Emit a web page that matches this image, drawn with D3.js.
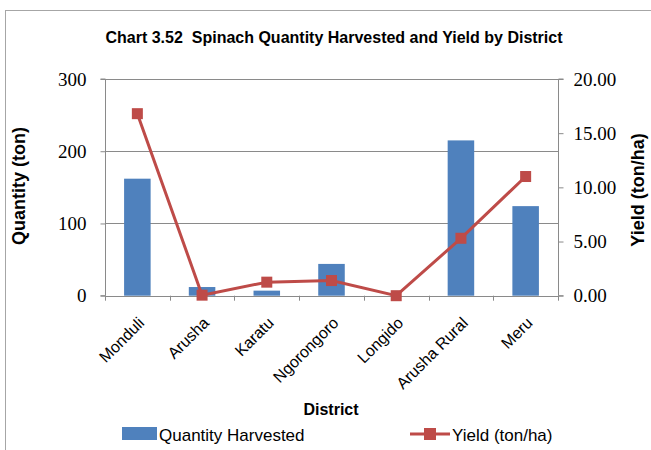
<!DOCTYPE html>
<html>
<head>
<meta charset="utf-8">
<script src="https://cdn.jsdelivr.net/npm/d3@7"></script>
<style>
  html, body { margin: 0; padding: 0; background: #fff; }
  svg { display: block; }
</style>
</head>
<body>
<svg id="chart" width="651" height="450"></svg>
<script>
const districts = ["Monduli", "Arusha", "Karatu", "Ngorongoro", "Longido", "Arusha Rural", "Meru"];
const quantityHarvested = [162, 12, 7, 44, 0, 215, 124];
const yieldTonHa = [16.8, 0.05, 1.25, 1.4, 0.0, 5.3, 11.0];
const leftTicks = [0, 100, 200, 300];
const rightTicks = [0, 5, 10, 15, 20];

const svg = d3.select("#chart");
const sansFont = "'Liberation Sans', Arial, sans-serif";
const serifFont = "'Liberation Serif', 'Times New Roman', serif";
const barColor = "#4F81BD";
const lineColor = "#BE4B48";
const gridColor = "#8a8a8a";

const plotLeft = 105, plotRight = 558, plotTop = 79, plotBottom = 295.7;

svg.append("rect").attr("width", 651).attr("height", 450).attr("fill", "#fff");
svg.append("rect").attr("x", 5.5).attr("y", 10.5).attr("width", 700).attr("height", 500)
  .attr("fill", "none").attr("stroke", "#a6a6a6").attr("stroke-width", 1);

svg.append("text").attr("x", 334).attr("y", 43).attr("text-anchor", "middle")
  .style("white-space", "pre")
  .attr("font-family", sansFont).attr("font-weight", "bold").attr("font-size", 16)
  .attr("fill", "#000").text("Chart 3.52  Spinach Quantity Harvested and Yield by District");

const x = d3.scaleBand().domain(districts).range([plotLeft, plotRight]);
const yL = d3.scaleLinear().domain([0, 300]).range([plotBottom, plotTop]);
const yR = d3.scaleLinear().domain([0, 20]).range([plotBottom, plotTop]);

// gridlines
svg.append("g").selectAll("line").data(leftTicks.filter(d => d > 0)).join("line")
  .attr("x1", plotLeft).attr("x2", plotRight)
  .attr("y1", d => Math.round(yL(d)) + 0.5).attr("y2", d => Math.round(yL(d)) + 0.5)
  .attr("stroke", gridColor).attr("stroke-width", 1);

// bars
const barW = x.bandwidth() * 0.41;
svg.append("g").selectAll("rect").data(districts).join("rect")
  .attr("x", (d) => x(d) + x.bandwidth() / 2 - barW / 2)
  .attr("width", barW)
  .attr("y", (d, i) => yL(quantityHarvested[i]))
  .attr("height", (d, i) => plotBottom - yL(quantityHarvested[i]))
  .attr("fill", barColor);

// left axis
const leftAxis = d3.axisLeft(yL).tickValues(leftTicks).tickSize(5).tickPadding(14).tickFormat(d3.format("d"));
const gL = svg.append("g").attr("transform", `translate(${plotLeft + 0.5},0)`).call(leftAxis);
gL.select(".domain").attr("stroke", gridColor).attr("d", `M-5,${plotTop}H0V${plotBottom}H-5`);
gL.selectAll(".tick line").attr("stroke", gridColor);
gL.selectAll(".tick text").attr("font-family", serifFont).attr("font-size", 19).attr("fill", "#000");

// right axis
const rightAxis = d3.axisRight(yR).tickValues(rightTicks).tickSize(5).tickPadding(10).tickFormat(d3.format(".2f"));
const gR = svg.append("g").attr("transform", `translate(${plotRight + 0.5},0)`).call(rightAxis);
gR.select(".domain").attr("stroke", gridColor).attr("d", `M5,${plotTop}H0V${plotBottom}H5`);
gR.selectAll(".tick line").attr("stroke", gridColor);
gR.selectAll(".tick text").attr("font-family", serifFont).attr("font-size", 19).attr("fill", "#000");

// bottom axis
const gB = svg.append("g");
gB.append("line").attr("x1", plotLeft).attr("x2", plotRight)
  .attr("y1", Math.round(plotBottom) + 0.5).attr("y2", Math.round(plotBottom) + 0.5)
  .attr("stroke", gridColor);
const boundaries = districts.map(d => x(d)).concat([plotRight]);
gB.selectAll("line.tk").data(boundaries).join("line").attr("class", "tk")
  .attr("x1", d => Math.round(d) + 0.5).attr("x2", d => Math.round(d) + 0.5)
  .attr("y1", plotBottom).attr("y2", plotBottom + 5).attr("stroke", gridColor);
gB.selectAll("text").data(districts).join("text")
  .attr("transform", d => `translate(${x(d) + x.bandwidth() / 2 + 8},324) rotate(-45)`)
  .attr("text-anchor", "end")
  .attr("font-family", sansFont).attr("font-size", 16).attr("fill", "#000")
  .text(d => d);

// yield line
const pts = districts.map((d, i) => [x(d) + x.bandwidth() / 2, yR(yieldTonHa[i])]);
svg.append("path").datum(pts).attr("d", d3.line())
  .attr("fill", "none").attr("stroke", lineColor).attr("stroke-width", 3);
const ms = 11;
svg.append("g").selectAll("rect").data(pts).join("rect")
  .attr("x", d => d[0] - ms / 2).attr("y", d => d[1] - ms / 2)
  .attr("width", ms).attr("height", ms).attr("fill", lineColor);

// axis titles
svg.append("text").attr("transform", "translate(25,186) rotate(-90)").attr("text-anchor", "middle")
  .attr("font-family", sansFont).attr("font-weight", "bold").attr("font-size", 18).attr("fill", "#000")
  .text("Quantity (ton)");
svg.append("text").attr("transform", "translate(644,190) rotate(-90)").attr("text-anchor", "middle")
  .attr("font-family", sansFont).attr("font-weight", "bold").attr("font-size", 18).attr("fill", "#000")
  .text("Yield (ton/ha)");
svg.append("text").attr("x", 331).attr("y", 415).attr("text-anchor", "middle")
  .attr("font-family", sansFont).attr("font-weight", "bold").attr("font-size", 16).attr("fill", "#000")
  .text("District");

// legend
const leg = svg.append("g");
leg.append("rect").attr("x", 122).attr("y", 427).attr("width", 35).attr("height", 13).attr("fill", barColor);
leg.append("text").attr("x", 159).attr("y", 441).attr("font-family", sansFont).attr("font-size", 17)
  .attr("fill", "#000").text("Quantity Harvested");
leg.append("line").attr("x1", 410).attr("x2", 450).attr("y1", 434).attr("y2", 434)
  .attr("stroke", lineColor).attr("stroke-width", 3);
leg.append("rect").attr("x", 430 - 6).attr("y", 434 - 6).attr("width", 12).attr("height", 12).attr("fill", lineColor);
leg.append("text").attr("x", 452).attr("y", 441).attr("font-family", sansFont).attr("font-size", 17)
  .attr("fill", "#000").text("Yield (ton/ha)");
</script>
</body>
</html>
